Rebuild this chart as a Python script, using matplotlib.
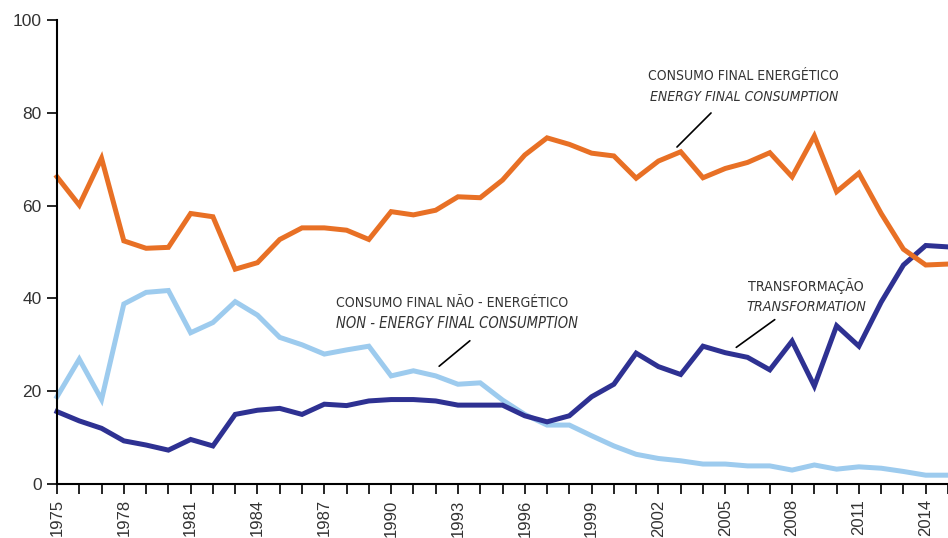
import matplotlib
matplotlib.use("Agg")
import matplotlib.pyplot as plt
from matplotlib import font_manager

years = list(range(1975, 2016))

energy_final = [66.2, 60.1, 70.2, 52.4, 50.8, 51.0, 58.3, 57.6, 46.3, 47.7,
                52.7, 55.2, 55.2, 54.7, 52.7, 58.7, 58.0, 59.0, 61.9, 61.7,
                65.5, 70.9, 74.6, 73.2, 71.3, 70.7, 65.9, 69.6, 71.6, 66.0,
                68.0, 69.3, 71.4, 66.2, 75.0, 63.0, 67.0, 58.3, 50.6, 47.2, 47.4]

transformation = [15.6, 13.6, 12.0, 9.3, 8.4, 7.3, 9.6, 8.2, 15.0, 15.9,
                  16.3, 15.0, 17.2, 16.9, 17.9, 18.2, 18.2, 17.9, 17.0, 17.0,
                  17.0, 14.7, 13.4, 14.7, 18.8, 21.5, 28.2, 25.3, 23.6, 29.7,
                  28.3, 27.3, 24.6, 30.8, 21.1, 34.1, 29.7, 39.2, 47.2, 51.4, 51.1]

non_energy = [18.8, 26.9, 18.2, 38.8, 41.3, 41.7, 32.6, 34.8, 39.3, 36.4,
              31.6, 30.0, 28.0, 28.9, 29.7, 23.3, 24.4, 23.3, 21.5, 21.8,
              18.1, 15.0, 12.7, 12.7, 10.4, 8.2, 6.4, 5.5, 5.0, 4.3,
              4.3, 3.9, 3.9, 3.0, 4.1, 3.2, 3.7, 3.4, 2.7, 1.9, 1.9]

xtick_labels = list(range(1975, 2016, 3))
ytick_values = [0, 20, 40, 60, 80, 100]

c_orange = "#E87025"
c_navy = "#2E3192"
c_light = "#9DCBEE"
c_text = "#333333"

# look for condensed / narrow sans faces for the annotations
cond_regular = None
cond_italic = None
for f in font_manager.fontManager.ttflist:
    fn = f.fname.lower()
    nm = f.name.lower()
    if not ("narrow" in nm or "condensed" in fn or "narrow" in fn):
        continue
    if "mono" in fn or "serif" in fn.replace("sans", "") or "bold" in fn:
        continue
    if "oblique" in fn or "italic" in fn:
        if cond_italic is None:
            cond_italic = f.fname
    else:
        if cond_regular is None:
            cond_regular = f.fname

plt.rcParams['font.family'] = ['Liberation Sans', 'DejaVu Sans']

fig = plt.figure(figsize=(9.48, 5.38), dpi=100)
ax = fig.add_axes([57/948, 54/538, (948-57)/948, (484-20)/538])

lw = 3.6
ax.plot(years, non_energy, color=c_light, lw=lw, solid_joinstyle='miter', clip_on=False, zorder=2)
ax.plot(years, transformation, color=c_navy, lw=lw, solid_joinstyle='miter', clip_on=False, zorder=3)
ax.plot(years, energy_final, color=c_orange, lw=lw, solid_joinstyle='miter', clip_on=False, zorder=4)

ax.set_xlim(1975, 2015)
ax.set_ylim(0, 100)
ax.set_xticks(years)
ax.set_xticklabels([str(y) if y in xtick_labels else "" for y in years],
                   rotation=90, fontsize=12, color=c_text)
ax.set_yticks(ytick_values)
ax.set_yticklabels([str(v) for v in ytick_values], fontsize=12.5, color=c_text)
ax.tick_params(axis='both', direction='out', length=7, width=1.2, color='black', pad=4)
for s in ['top', 'right']:
    ax.spines[s].set_visible(False)
for s in ['left', 'bottom']:
    ax.spines[s].set_linewidth(1.5)
    ax.spines[s].set_zorder(5)

def px(x, y):
    return (x / 948, 1 - y / 538)

renderer = fig.canvas.get_renderer()

def label(x, y, s, width, italic=False):
    kw = dict(color=c_text, va='center', ha='left')
    if italic:
        if cond_italic is not None:
            kw['fontproperties'] = font_manager.FontProperties(fname=cond_italic)
        else:
            kw['style'] = 'italic'
    elif cond_regular is not None:
        kw['fontproperties'] = font_manager.FontProperties(fname=cond_regular)
    t = fig.text(*px(x, y), s, **kw)
    t.set_fontsize(11)
    w = t.get_window_extent(renderer).width
    t.set_fontsize(11 * width / w)
    return t

label(648, 76, "CONSUMO FINAL ENERGÉTICO", 190)
label(650, 97, "ENERGY FINAL CONSUMPTION", 188, italic=True)
ax.annotate("", xy=px(675, 149), xycoords='figure fraction', xytext=px(713, 111), textcoords='figure fraction',
            arrowprops=dict(arrowstyle='-', color='black', lw=1.2))

label(336, 303, "CONSUMO FINAL NÃO - ENERGÉTICO", 232)
label(336, 323, "NON - ENERGY FINAL CONSUMPTION", 241, italic=True)
ax.annotate("", xy=px(437, 368), xycoords='figure fraction', xytext=px(472, 339), textcoords='figure fraction',
            arrowprops=dict(arrowstyle='-', color='black', lw=1.2))

label(748, 286, "TRANSFORMAÇÃO", 115)
label(746, 307, "TRANSFORMATION", 119, italic=True)
ax.annotate("", xy=px(734, 349), xycoords='figure fraction', xytext=px(777, 318), textcoords='figure fraction',
            arrowprops=dict(arrowstyle='-', color='black', lw=1.2))

fig.savefig("out.png", dpi=100)
